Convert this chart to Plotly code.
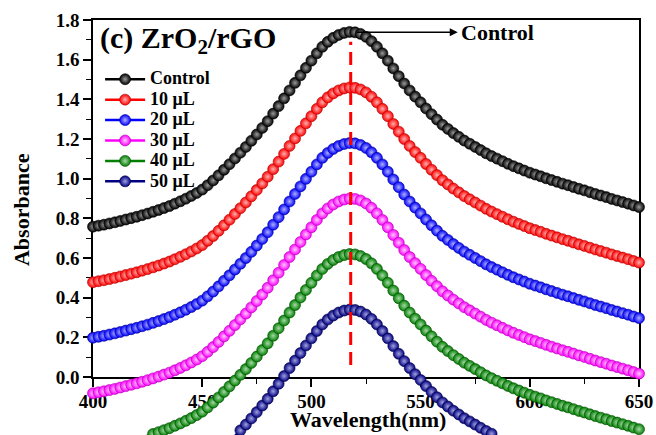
import plotly.graph_objects as go

# ---------------- data ----------------
wavelength = [400 + 2.5 * i for i in range(101)]

series_names = ["Control", "10 μL", "20 μL", "30 μL", "40 μL", "50 μL"]
series_colors = ["#000000", "#ff0000", "#0000ff", "#ff00ff", "#008000", "#000080"]
highlight_colors = ["#9a9a9a", "#ffb0b0", "#b0b0ff", "#ffc8ff", "#a8d8a8", "#a0a0e0"]
edge_colors = ["#000000", "#b00000", "#000090", "#b000b0", "#004800", "#000040"]

control = [
    0.758, 0.763, 0.768, 0.774, 0.780, 0.787, 0.794, 0.801, 0.808, 0.816,
    0.824, 0.833, 0.842, 0.852, 0.862, 0.874, 0.886, 0.899, 0.913, 0.928,
    0.945, 0.967, 0.991, 1.017, 1.045, 1.073, 1.102, 1.131, 1.160, 1.191,
    1.223, 1.256, 1.290, 1.328, 1.366, 1.405, 1.445, 1.483, 1.521, 1.559,
    1.595, 1.632, 1.665, 1.690, 1.710, 1.725, 1.735, 1.740, 1.738, 1.730,
    1.715, 1.693, 1.665, 1.632, 1.595, 1.556, 1.517, 1.480, 1.445, 1.414,
    1.385, 1.354, 1.325, 1.298, 1.272, 1.251, 1.230, 1.211, 1.192, 1.176,
    1.160, 1.144, 1.128, 1.114, 1.101, 1.088, 1.075, 1.063, 1.052, 1.041,
    1.030, 1.021, 1.012, 1.002, 0.993, 0.984, 0.975, 0.967, 0.958, 0.949,
    0.941, 0.932, 0.923, 0.915, 0.907, 0.898, 0.890, 0.882, 0.874, 0.865,
    0.857,
]
ul10 = [
    0.478, 0.483, 0.488, 0.494, 0.500, 0.507, 0.514, 0.521, 0.528, 0.536,
    0.544, 0.553, 0.562, 0.572, 0.582, 0.594, 0.606, 0.619, 0.633, 0.648,
    0.665, 0.687, 0.711, 0.737, 0.765, 0.793, 0.822, 0.851, 0.880, 0.911,
    0.943, 0.976, 1.010, 1.048, 1.086, 1.125, 1.165, 1.203, 1.241, 1.279,
    1.315, 1.352, 1.385, 1.410, 1.430, 1.445, 1.455, 1.460, 1.458, 1.450,
    1.435, 1.413, 1.385, 1.352, 1.315, 1.276, 1.237, 1.200, 1.165, 1.134,
    1.105, 1.074, 1.045, 1.018, 0.992, 0.971, 0.950, 0.931, 0.912, 0.896,
    0.880, 0.864, 0.848, 0.834, 0.821, 0.808, 0.795, 0.783, 0.772, 0.761,
    0.750, 0.741, 0.732, 0.722, 0.713, 0.704, 0.695, 0.687, 0.678, 0.669,
    0.661, 0.652, 0.643, 0.635, 0.627, 0.618, 0.610, 0.602, 0.594, 0.585,
    0.577,
]
ul20 = [
    0.198, 0.203, 0.208, 0.214, 0.220, 0.227, 0.234, 0.241, 0.248, 0.256,
    0.264, 0.273, 0.282, 0.292, 0.302, 0.314, 0.326, 0.339, 0.353, 0.368,
    0.385, 0.407, 0.431, 0.457, 0.485, 0.513, 0.542, 0.571, 0.600, 0.631,
    0.663, 0.696, 0.730, 0.768, 0.806, 0.845, 0.885, 0.923, 0.961, 0.999,
    1.035, 1.072, 1.105, 1.130, 1.150, 1.165, 1.175, 1.180, 1.178, 1.170,
    1.155, 1.133, 1.105, 1.072, 1.035, 0.996, 0.957, 0.920, 0.885, 0.854,
    0.825, 0.794, 0.765, 0.738, 0.712, 0.691, 0.670, 0.651, 0.632, 0.616,
    0.600, 0.584, 0.568, 0.554, 0.541, 0.528, 0.515, 0.503, 0.492, 0.481,
    0.470, 0.461, 0.452, 0.442, 0.433, 0.424, 0.415, 0.407, 0.398, 0.389,
    0.381, 0.372, 0.363, 0.355, 0.347, 0.338, 0.330, 0.322, 0.314, 0.305,
    0.297,
]
ul30 = [
    -0.082, -0.077, -0.072, -0.066, -0.060, -0.053, -0.046, -0.039, -0.032, -0.024,
    -0.016, -0.007, 0.002, 0.012, 0.022, 0.034, 0.046, 0.059, 0.073, 0.088,
    0.105, 0.127, 0.151, 0.177, 0.205, 0.233, 0.262, 0.291, 0.320, 0.351,
    0.383, 0.416, 0.450, 0.488, 0.526, 0.565, 0.605, 0.643, 0.681, 0.719,
    0.755, 0.792, 0.825, 0.850, 0.870, 0.885, 0.895, 0.900, 0.898, 0.890,
    0.875, 0.853, 0.825, 0.792, 0.755, 0.716, 0.677, 0.640, 0.605, 0.574,
    0.545, 0.514, 0.485, 0.458, 0.432, 0.411, 0.390, 0.371, 0.352, 0.336,
    0.320, 0.304, 0.288, 0.274, 0.261, 0.248, 0.235, 0.223, 0.212, 0.201,
    0.190, 0.181, 0.172, 0.162, 0.153, 0.144, 0.135, 0.127, 0.118, 0.109,
    0.101, 0.092, 0.083, 0.075, 0.067, 0.058, 0.050, 0.042, 0.034, 0.025,
    0.017,
]
ul40 = [
    -0.362, -0.357, -0.352, -0.346, -0.340, -0.333, -0.326, -0.319, -0.312, -0.304,
    -0.296, -0.287, -0.278, -0.268, -0.258, -0.246, -0.234, -0.221, -0.207, -0.192,
    -0.175, -0.153, -0.129, -0.103, -0.075, -0.047, -0.018, 0.011, 0.040, 0.071,
    0.103, 0.136, 0.170, 0.208, 0.246, 0.285, 0.325, 0.363, 0.401, 0.439,
    0.475, 0.512, 0.545, 0.570, 0.590, 0.605, 0.615, 0.620, 0.618, 0.610,
    0.595, 0.573, 0.545, 0.512, 0.475, 0.436, 0.397, 0.360, 0.325, 0.294,
    0.265, 0.234, 0.205, 0.178, 0.152, 0.131, 0.110, 0.091, 0.072, 0.056,
    0.040, 0.024, 0.008, -0.006, -0.019, -0.032, -0.045, -0.057, -0.068, -0.079,
    -0.090, -0.099, -0.108, -0.118, -0.127, -0.136, -0.145, -0.153, -0.162, -0.171,
    -0.179, -0.188, -0.197, -0.205, -0.213, -0.222, -0.230, -0.238, -0.246, -0.255,
    -0.263,
]
ul50 = [
    -0.642, -0.637, -0.632, -0.626, -0.620, -0.613, -0.606, -0.599, -0.592, -0.584,
    -0.576, -0.567, -0.558, -0.548, -0.538, -0.526, -0.514, -0.501, -0.487, -0.472,
    -0.455, -0.433, -0.409, -0.383, -0.355, -0.327, -0.298, -0.269, -0.240, -0.209,
    -0.177, -0.144, -0.110, -0.072, -0.034, 0.005, 0.045, 0.083, 0.121, 0.159,
    0.195, 0.232, 0.265, 0.290, 0.310, 0.325, 0.335, 0.340, 0.338, 0.330,
    0.315, 0.293, 0.265, 0.232, 0.195, 0.156, 0.117, 0.080, 0.045, 0.014,
    -0.015, -0.046, -0.075, -0.102, -0.128, -0.149, -0.170, -0.189, -0.208, -0.224,
    -0.240, -0.256, -0.272, -0.286, -0.299, -0.312, -0.325, -0.337, -0.348, -0.359,
    -0.370, -0.379, -0.388, -0.398, -0.407, -0.416, -0.425, -0.433, -0.442, -0.451,
    -0.459, -0.468, -0.477, -0.485, -0.493, -0.502, -0.510, -0.518, -0.526, -0.535,
    -0.543,
]
all_series = [control, ul10, ul20, ul30, ul40, ul50]

peak_wavelength = 518
peak_line_y = [0.06, 1.69]
arrow_start = (520, 1.738)
arrow_tip = (567, 1.738)

x_range = [400, 650]
y_range = [0, 1.8]

FONT = "Liberation Serif, Times New Roman, serif"

# ---------------- geometry ----------------
W, H = 656, 435
M_L, M_R, M_T, M_B = 93, 17, 20, 0
frame_bottom_gap = 58            # px between x axis and bottom of the page
plot_h = H - M_T - M_B
axis_frac = frame_bottom_gap / plot_h
# the data subplot spans the full height so curves can run below the x axis
y_low = y_range[1] - (y_range[1] - y_range[0]) / (1 - axis_frac)


def py(px):
    """paper y coordinate of a pixel row"""
    return 1 - (px - M_T) / plot_h


# ---------------- figure ----------------
fig = go.Figure()
for name, vals, col, hi, edge in zip(series_names, all_series, series_colors,
                                     highlight_colors, edge_colors):
    fig.add_trace(go.Scatter(
        x=wavelength, y=vals,
        name="<span style='font-size:18px'>" + name + "</span>",
        mode="lines+markers",
        line=dict(color=col, width=2.5),
        marker=dict(size=11, color=col,
                    gradient=dict(type="radial", color=hi),
                    line=dict(width=0.6, color=edge)),
        cliponaxis=False, xaxis="x2", yaxis="y2",
    ))

fig.add_shape(type="line", x0=peak_wavelength, x1=peak_wavelength,
              y0=peak_line_y[0], y1=peak_line_y[1], xref="x", yref="y",
              line=dict(color="#ff0000", width=3, dash="13px,7px"), layer="above")

fig.add_annotation(x=arrow_tip[0], y=arrow_tip[1], ax=arrow_start[0], ay=arrow_start[1],
                   xref="x", yref="y", axref="x", ayref="y", text="",
                   showarrow=True, arrowhead=2, arrowsize=1, arrowwidth=1.6,
                   arrowcolor="#000000")
fig.add_annotation(x=arrow_tip[0] + 0.5, y=arrow_tip[1], xref="x", yref="y",
                   text="Control", showarrow=False, xanchor="left", yanchor="middle",
                   font=dict(family=FONT, size=22, color="#000000", weight="bold"))

fig.add_annotation(x=0.009, y=py(40), xref="paper", yref="paper",
                   text="(c) ZrO<sub>2</sub>/rGO", showarrow=False,
                   xanchor="left", yanchor="middle",
                   font=dict(family=FONT, size=30, color="#000000", weight="bold"))

fig.add_annotation(x=0.504, y=py(419), xref="paper", yref="paper",
                   text="Wavelength(nm)", showarrow=False,
                   xanchor="center", yanchor="middle",
                   font=dict(family=FONT, size=22, color="#000000", weight="bold"))
fig.add_annotation(x=-0.13, y=py(210), xref="paper", yref="paper",
                   text="Absorbance", showarrow=False, textangle=-90,
                   xanchor="center", yanchor="middle",
                   font=dict(family=FONT, size=22, color="#000000", weight="bold"))

axis_common = dict(
    showgrid=False, zeroline=False, showline=True, linecolor="#000000", linewidth=1.6,
    mirror=True, ticks="outside", ticklen=8, tickwidth=1.6, tickcolor="#000000",
    tickfont=dict(family=FONT, size=19, color="#000000", weight="bold"),
    layer="below traces", automargin=False,
)
fig.update_layout(
    xaxis=dict(range=x_range, dtick=50, tick0=400, domain=[0, 1], anchor="y",
               ticklabelstandoff=-2,
               minor=dict(dtick=25, ticks="outside", ticklen=5, tickwidth=1.4,
                          tickcolor="#000000"),
               **axis_common),
    yaxis=dict(range=y_range, dtick=0.2, tick0=0, tickformat=".1f",
               domain=[axis_frac, 1], anchor="x",
               minor=dict(dtick=0.1, ticks="outside", ticklen=5, tickwidth=1.4,
                          tickcolor="#000000"),
               **axis_common),
    xaxis2=dict(range=x_range, domain=[0, 1], anchor="y2", visible=False,
                showgrid=False, zeroline=False, automargin=False),
    yaxis2=dict(range=[y_low, y_range[1]], domain=[0, 1], anchor="x2", visible=False,
                showgrid=False, zeroline=False, automargin=False),
)

fig.update_layout(
    width=W, height=H,
    margin=dict(l=M_L, r=M_R, t=M_T, b=M_B, autoexpand=False),
    paper_bgcolor="#ffffff", plot_bgcolor="rgba(0,0,0,0)",
    showlegend=True,
    legend=dict(x=0.013, y=py(64), xanchor="left", yanchor="top",
                bgcolor="rgba(0,0,0,0)", borderwidth=0,
                font=dict(family=FONT, size=13.4, color="#000000", weight="bold"),
                itemwidth=40, tracegroupgap=0),
)

fig.write_html("out.html")
